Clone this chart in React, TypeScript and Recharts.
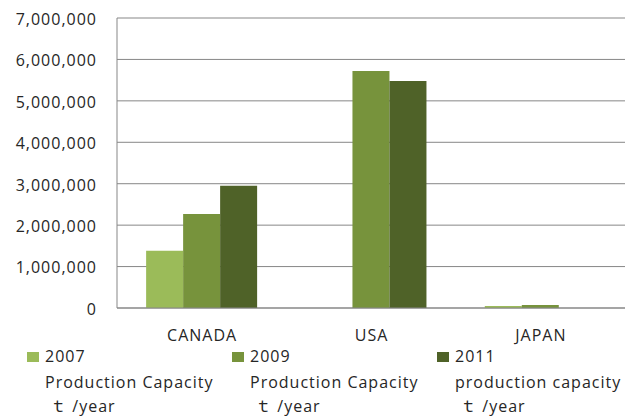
import React from 'react';
import { BarChart, Bar, XAxis, YAxis, CartesianGrid, Legend } from 'recharts';

// Annual production capacity by country (t/year)
const countries = ['CANADA', 'USA', 'JAPAN'];
const capacity2007: (number | null)[] = [1380000, null, 50000];
const capacity2009: (number | null)[] = [2270000, 5720000, 75000];
const capacity2011: (number | null)[] = [2950000, 5480000, null];

const seriesNames = [
  '2007\nProduction Capacity\n ｔ /year',
  '2009\nProduction Capacity\n ｔ /year',
  '2011\nproduction capacity\n ｔ /year',
];
const seriesColors = ['#9BBB59', '#77933C', '#4F6228'];
const yTicks = [0, 1000000, 2000000, 3000000, 4000000, 5000000, 6000000, 7000000];

const data = countries.map((country, i) => ({
  country,
  c2007: capacity2007[i],
  c2009: capacity2009[i],
  c2011: capacity2011[i],
}));

const FONT = "'Open Sans', 'Noto Sans CJK JP', sans-serif";
const TEXT_COLOR = '#262626';
const LINE_COLOR = '#878787';
const FONT_SIZE = 16;
const SPACING = 1;

const fmt = (v: number) => v.toLocaleString('en-US');

const YTick = (props: any) => {
  const { x, y, payload } = props;
  return (
    <text x={x} y={y} dy={6.8} textAnchor="end" fill={TEXT_COLOR} fontSize={FONT_SIZE} letterSpacing={SPACING} fontFamily={FONT}>
      {fmt(payload.value)}
    </text>
  );
};

const XTick = (props: any) => {
  const { x, y, payload } = props;
  return (
    <text x={x + 0.5} y={y} dy={11} textAnchor="middle" fill={TEXT_COLOR} fontSize={FONT_SIZE} letterSpacing={SPACING} fontFamily={FONT}>
      {payload.value}
    </text>
  );
};

// Legend rows: baselines at roughly 362, 388 and 412 px
const LINE_TOPS = [345.5, 371.5, 395.5];

const LegendContent = (props: any) => {
  const { payload = [] } = props;
  return (
    <div style={{ position: 'relative', width: 635, height: 0, overflow: 'visible' }}>
      {payload.map((entry: any, i: number) => {
        const lines = String(entry.value).split('\n');
        const left = 27 + i * 205;
        return (
          <React.Fragment key={i}>
            <div
              style={{
                position: 'absolute',
                left,
                top: 352,
                width: 12,
                height: 10,
                background: entry.color,
              }}
            />
            {lines.map((line, j) => (
              <div
                key={j}
                style={{
                  position: 'absolute',
                  left: left + 18,
                  top: LINE_TOPS[j],
                  height: 20,
                  whiteSpace: 'pre',
                  fontFamily: FONT,
                  fontSize: FONT_SIZE,
                  letterSpacing: SPACING,
                  lineHeight: '20px',
                  color: TEXT_COLOR,
                }}
              >
                {line}
              </div>
            ))}
          </React.Fragment>
        );
      })}
    </div>
  );
};

export default function App() {
  return (
    <div style={{ position: 'absolute', left: 0, top: 0, width: 635, height: 417, background: '#fff', fontFamily: FONT }}>
      <BarChart
        width={635}
        height={417}
        data={data}
        margin={{ top: 18, right: 10, bottom: 79, left: 0 }}
        barCategoryGap="17.2%"
        barGap={0}
      >
        <CartesianGrid vertical={false} stroke={LINE_COLOR} strokeWidth={1} />
        <XAxis
          dataKey="country"
          height={30}
          tick={<XTick />}
          tickLine={false}
          tickSize={0}
          tickMargin={22}
          axisLine={{ stroke: LINE_COLOR }}
        />
        <YAxis
          width={117}
          domain={[0, 7000000]}
          ticks={yTicks}
          interval={0}
          tick={<YTick />}
          tickLine={false}
          tickSize={0}
          tickMargin={20}
          axisLine={{ stroke: LINE_COLOR }}
        />
        <Legend
          content={<LegendContent />}
          wrapperStyle={{ position: 'absolute', left: 0, top: 0, width: 635, height: 0, overflow: 'visible' }}
        />
        <Bar dataKey="c2007" name={seriesNames[0]} fill={seriesColors[0]} isAnimationActive={false} />
        <Bar dataKey="c2009" name={seriesNames[1]} fill={seriesColors[1]} isAnimationActive={false} />
        <Bar dataKey="c2011" name={seriesNames[2]} fill={seriesColors[2]} isAnimationActive={false} />
      </BarChart>
    </div>
  );
}
